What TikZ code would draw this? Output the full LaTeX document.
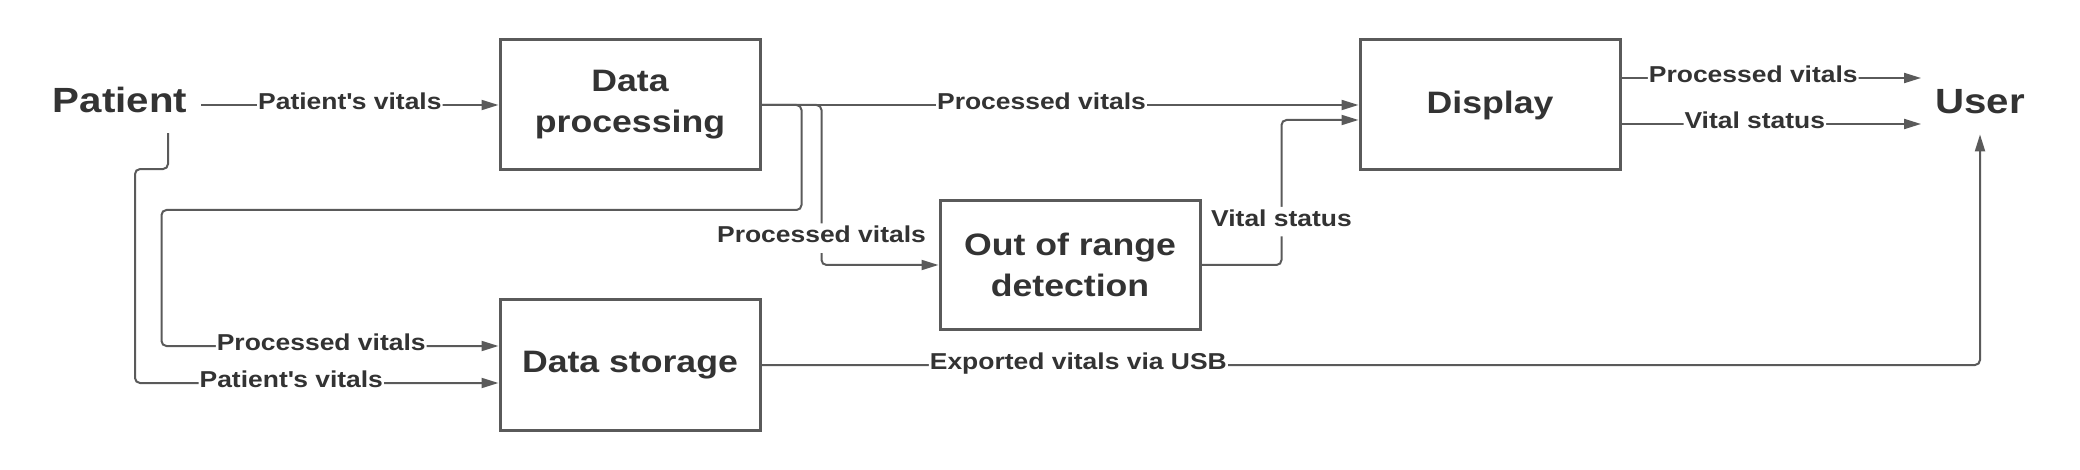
\documentclass[tikz,border=0pt]{standalone}
\usepackage{fontspec}
\setmainfont{Liberation Sans}[FakeStretch=1.15]
\usetikzlibrary{arrows.meta,positioning}
\definecolor{ln}{HTML}{5A5A5A}
\definecolor{txt}{HTML}{333333}

\begin{document}
\begin{tikzpicture}[x=1pt,y=-1pt]
		\tikzset{block/.style={draw=ln,line width=3pt,minimum width=260pt,minimum height=130pt,
				align=center,text=txt,font=\fontsize{31}{41}\selectfont\bfseries}}
		\tikzset{actor/.style={text=txt,inner xsep=14pt,inner ysep=20pt,font=\fontsize{35}{40}\selectfont\bfseries}}
		\tikzset{flow/.style={draw=ln,line width=2pt,rounded corners=5pt,-{Triangle[length=17pt,width=10pt]}}}
		\tikzset{lbl/.style={fill=white,text=txt,inner xsep=1pt,inner ysep=3pt,text height=16.6pt,text depth=6.9pt,
				font=\fontsize{23}{27}\selectfont\bfseries}}
		\useasboundingbox (0,0) rectangle (2080,470);
		\node[actor] (patient) at (120,100) {Patient};
		\node[actor] (user) at (1980,102) {User};
		\node[block] (dp) at (630,105) {Data\\processing};
		\node[block] (disp) at (1490,105) {Display};
		\node[block,minimum height=128pt] (oor) at (1070,265) {Out of range\\detection};
		\node[block] (store) at (630,365) {Data storage};
		\coordinate (pvout) at ([yshift=27pt]disp.east);
		\coordinate (vsout) at ([yshift=-19pt]disp.east);
		%\draw[help lines] (0,0) grid[step=100] (2080,470);
		\draw[flow] ([yshift=-5pt]patient.east) -- node[lbl]{Patient\textquotesingle s vitals} (dp.west);
		\draw[flow] (dp.east) -- node[lbl,pos=0.469]{Processed vitals} (disp.west);
		\draw[flow] (dp.east) -- ++(60,0) |- node[lbl,pos=0.416]{Processed vitals} (oor.west);
		\draw[flow] (dp.east) -- ++(40,0) -- ++(0,105) -- ++(-640,0)
			|- node[lbl,pos=0.737]{Processed vitals} ([yshift=19pt]store.west);
		\draw[flow] ([xshift=48pt]patient.south) -- ++(0,36) -- ++(-33,0)
			|- node[lbl,pos=0.715]{Patient\textquotesingle s vitals} ([yshift=-18pt]store.west);
		\draw[flow] (oor.east) -- ++(80,0) |- node[lbl,pos=0.15]{Vital status} ([yshift=-15pt]disp.west);
		\draw[flow] (pvout) -- node[lbl,pos=0.44]{Processed vitals} (pvout -| user.west);
		\draw[flow] (vsout) -- node[lbl,pos=0.445]{Vital status} (vsout -| user.west);
		\draw[flow] (store.east) -| node[lbl,pos=0.13]{Exported vitals via USB} (user.south);
	\end{tikzpicture}
\end{document}
